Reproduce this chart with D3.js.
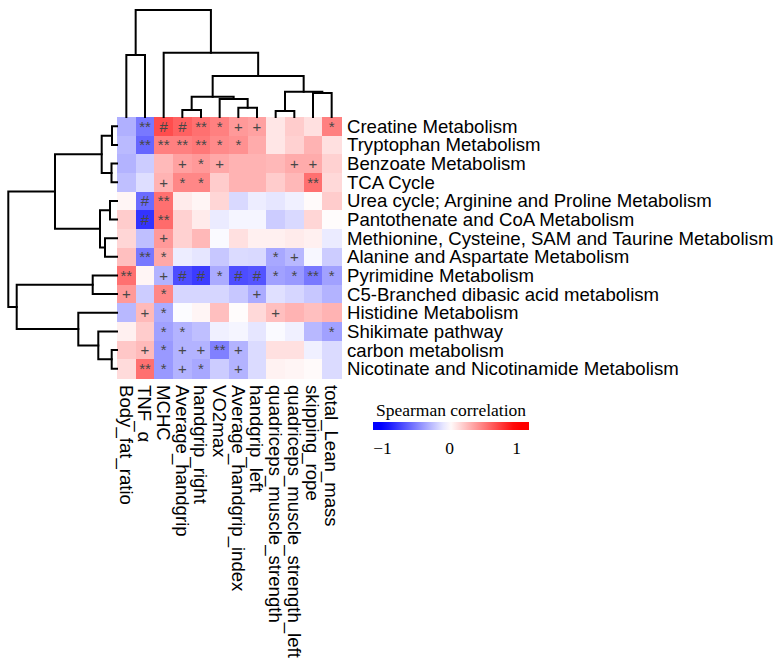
<!DOCTYPE html>
<html><head><meta charset="utf-8">
<script src="https://cdn.jsdelivr.net/npm/d3@7"></script>
<style>body{margin:0;background:#fff}svg{display:block}</style>
</head><body>
<script>
const rowNames = ["Creatine Metabolism","Tryptophan Metabolism","Benzoate Metabolism","TCA Cycle",
  "Urea cycle; Arginine and Proline Metabolism","Pantothenate and CoA Metabolism",
  "Methionine, Cysteine, SAM and Taurine Metabolism","Alanine and Aspartate Metabolism",
  "Pyrimidine Metabolism","C5-Branched dibasic acid metabolism","Histidine Metabolism",
  "Shikimate pathway","carbon metabolism","Nicotinate and Nicotinamide Metabolism"];
const colNames = ["Body_fat_ratio","TNF_\u03b1","MCHC","Average_handgrip","handgrip_right","VO2max",
  "Average_handgrip_index","handgrip_left","quadriceps_muscle_strength","quadriceps_muscle_strength_left",
  "skipping_rope","total_Lean_mass"];
const values = [
  [-0.31,-0.53, 0.70, 0.62, 0.56, 0.50, 0.40, 0.37, 0.10, 0.20, 0.12, 0.50],
  [-0.27,-0.60, 0.50, 0.50, 0.53, 0.46, 0.43, 0.33, 0.10, 0.18, 0.30, 0.12],
  [-0.30,-0.20, 0.27, 0.37, 0.40, 0.34, 0.30, 0.30, 0.28, 0.33, 0.33, 0.18],
  [-0.25,-0.13, 0.30, 0.47, 0.47, 0.20, 0.30, 0.30, 0.20, 0.28, 0.56, 0.15],
  [ 0.04,-0.58, 0.56, 0.08, 0.04, 0.16,-0.15,-0.07,-0.10,-0.06, 0.02, 0.20],
  [ 0.20,-0.80, 0.58, 0.18, 0.08,-0.08,-0.04,-0.04,-0.20,-0.15, 0.16, 0.01],
  [ 0.16,-0.25, 0.40, 0.18, 0.28,-0.02, 0.12, 0.06, 0.06, 0.08, 0.06,-0.08],
  [ 0.25,-0.53, 0.34,-0.07,-0.10,-0.22,-0.14,-0.15,-0.34,-0.28,-0.03,-0.20],
  [ 0.56, 0.04,-0.30,-0.70,-0.77,-0.33,-0.70,-0.67,-0.37,-0.40,-0.53,-0.37],
  [ 0.40,-0.20, 0.47,-0.16,-0.16,-0.16,-0.22,-0.33,-0.12,-0.16,-0.22,-0.30],
  [-0.28, 0.27,-0.33,-0.01, 0.04, 0.25, 0.01, 0.15, 0.25, 0.30, 0.25, 0.30],
  [ 0.06, 0.20,-0.37,-0.30,-0.25,-0.06,-0.04,-0.10,-0.02,-0.06,-0.28,-0.37],
  [ 0.22, 0.27,-0.40,-0.30,-0.30,-0.50,-0.30,-0.14, 0.12, 0.12,-0.06,-0.14],
  [ 0.14, 0.56,-0.40,-0.30,-0.34,-0.20,-0.30,-0.14, 0.05, 0.04, 0.02,-0.14]
];
const marks = [
  ["","**","#","#","**","*","+","+","","","","*"],
  ["","**","**","**","**","*","*","","","","",""],
  ["","","","+","*","+","","","","+","+",""],
  ["","","+","*","*","","","","","","**",""],
  ["","#","**","","","","","","","","",""],
  ["","#","**","","","","","","","","",""],
  ["","","+","","","","","","","","",""],
  ["","**","*","","","","","","*","+","",""],
  ["**","","+","#","#","*","#","#","*","*","**","*"],
  ["+","","*","","","","","+","","","",""],
  ["","+","*","","","","","","+","","",""],
  ["","","*","*","","","","","","","","*"],
  ["","+","*","+","+","**","+","","","","",""],
  ["","**","*","+","*","","+","","","","",""]
];
// dendrograms: node = [left, right, height]; leaf = display index
const colTree = [[0,1,62],[2,[[[3,4,7],[5,[6,7,9.3],18],20.3],[[8,9,6],[10,11,24],25.3],41],64.3],107];
const rowTree = [[[[0,1,5],[2,3,5.5],15.3],[[4,5,7],[6,7,12],17],62],[[8,9,24.3],[10,[11,[12,13,5.3],18.7],38.7],100.3],108.7];
const legendTicks = [-1,0,1];
const legendTitle = "Spearman correlation";

const W=779,H=665;
const svg = d3.select("body").append("svg").attr("width",W).attr("height",H);
const x = d3.scaleBand().domain(d3.range(colNames.length)).range([117,341]);
const y = d3.scaleBand().domain(d3.range(rowNames.length)).range([117,378]);
const color = d3.scaleLinear().domain([-1,0,1]).range(["#0000ff","#ffffff","#ff0000"]);
const sans = "'Liberation Sans', Arial, sans-serif";
const serif = "'Liberation Serif', 'Times New Roman', serif";

// cells
const cells = [];
values.forEach((r,i)=>r.forEach((v,j)=>cells.push({i,j,v,m:marks[i][j]})));
svg.append("g").selectAll("rect").data(cells).join("rect")
  .attr("x",d=>x(d.j)).attr("y",d=>y(d.i))
  .attr("width",x.bandwidth()+0.5).attr("height",y.bandwidth()+0.5)
  .attr("fill",d=>color(d.v)).attr("shape-rendering","crispEdges");
svg.append("g").selectAll("text").data(cells.filter(d=>d.m)).join("text")
  .attr("x",d=>x(d.j)+x.bandwidth()/2).attr("y",d=>y(d.i)+y.bandwidth()/2)
  .attr("dy","0.35em").attr("text-anchor","middle")
  .style("font-family",sans).style("font-size","15px").attr("fill","#474747")
  .text(d=>d.m);

// dendrograms
const hCol = d3.scaleLinear().domain([0,107]).range([117,10]);
const hRow = d3.scaleLinear().domain([0,108.7]).range([117,8.3]);
function lay(node, band, segs){
  if(typeof node==="number") return {p:band(node)+band.bandwidth()/2,h:0};
  const a=lay(node[0],band,segs), b=lay(node[1],band,segs);
  segs.push({a,b,h:node[2]});
  return {p:(a.p+b.p)/2,h:node[2]};
}
const cs=[]; lay(colTree,x,cs);
svg.append("g").selectAll("path").data(cs).join("path")
  .attr("d",s=>`M${s.a.p},${hCol(s.a.h)}V${hCol(s.h)}H${s.b.p}V${hCol(s.b.h)}`)
  .attr("fill","none").attr("stroke","#000").attr("stroke-width",2).attr("stroke-linecap","square");
const rs=[]; lay(rowTree,y,rs);
svg.append("g").selectAll("path").data(rs).join("path")
  .attr("d",s=>`M${hRow(s.a.h)},${s.a.p}H${hRow(s.h)}V${s.b.p}H${hRow(s.b.h)}`)
  .attr("fill","none").attr("stroke","#000").attr("stroke-width",2).attr("stroke-linecap","square");

// row labels
svg.append("g").selectAll("text").data(rowNames).join("text")
  .attr("x",347).attr("y",(d,i)=>y(i)+y.bandwidth()/2).attr("dy","0.35em")
  .style("font-family",sans).style("font-size","18.6px").attr("fill","#000").text(d=>d);
// col labels
svg.append("g").selectAll("text").data(colNames).join("text")
  .attr("transform",(d,i)=>`translate(${x(i)+x.bandwidth()/2},385) rotate(90)`).attr("dy","0.35em")
  .style("font-family",sans).style("font-size","18.6px").attr("fill","#000").text(d=>d);

// legend
const lx = d3.scaleLinear().domain([-1,1]).range([382.5,516.5]);
const barX0=373, barX1=529;
const grad = svg.append("defs").append("linearGradient").attr("id","lg")
  .attr("x1","0%").attr("x2","100%");
const stops = d3.range(0,1.0001,0.05);
grad.selectAll("stop").data(stops).join("stop")
  .attr("offset",t=>t)
  .attr("stop-color",t=>color(Math.max(-1,Math.min(1,lx.invert(barX0+t*(barX1-barX0))))));
svg.append("rect").attr("x",barX0).attr("y",422).attr("width",barX1-barX0).attr("height",8).attr("fill","url(#lg)");
svg.append("text").attr("x",451).attr("y",416).attr("text-anchor","middle")
  .style("font-family",serif).style("font-size","17.5px").text(legendTitle);
svg.append("g").selectAll("text").data(legendTicks).join("text")
  .attr("x",d=>lx(d)).attr("y",454).attr("text-anchor","middle")
  .style("font-family",serif).style("font-size","17.5px")
  .text(d=>d<0?"\u2212"+Math.abs(d):String(d));
</script>
</body></html>
